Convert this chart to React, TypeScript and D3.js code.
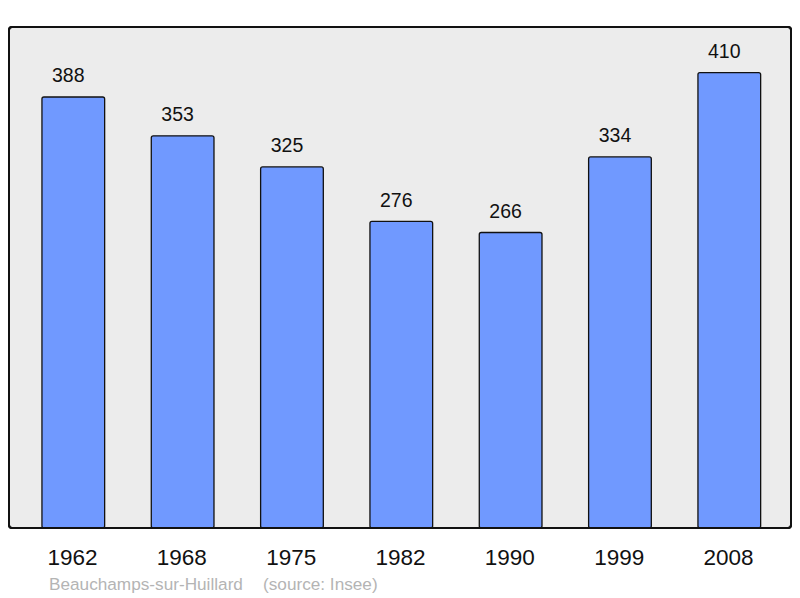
import React from "react";
import * as d3 from "d3";

const years = ["1962", "1968", "1975", "1982", "1990", "1999", "2008"];
const population = [388, 353, 325, 276, 266, 334, 410];
const townName = "Beauchamps-sur-Huillard";
const sourceLabel = "(source: Insee)";

const W = 800;
const H = 598;
const frame = { left: 9, top: 27, right: 791, bottom: 528 };

export default function App() {
  const x = d3.scalePoint<string>().domain(years).range([73.3, 729.3]);
  const y = d3
    .scaleLinear()
    .domain([0, d3.max(population)! * 1.1])
    .range([frame.bottom, frame.top]);
  const barW = 62.7;
  const font = "'Liberation Sans', Arial, sans-serif";

  return (
    <svg
      width={W}
      height={H}
      style={{ position: "absolute", left: 0, top: 0 }}
      fontFamily={font}
    >
      <rect x={0} y={0} width={W} height={H} fill="#ffffff" />
      <rect
        x={frame.left}
        y={frame.top}
        width={frame.right - frame.left}
        height={frame.bottom - frame.top}
        rx={3}
        fill="#ececec"
        stroke="#111"
        strokeWidth={2}
      />
      {years.map((yr, i) => {
        const cx = x(yr)!;
        const top = y(population[i]);
        return (
          <g key={yr}>
            <rect
              x={cx - barW / 2}
              y={top}
              width={barW}
              height={frame.bottom - top}
              rx={2}
              fill="#7099ff"
              stroke="#111"
              strokeWidth={1.3}
            />
            <text
              x={cx - 5}
              y={top - 14.8}
              textAnchor="middle"
              fontSize={19.5}
              fill="#111"
            >
              {population[i]}
            </text>
            <text
              x={cx - 0.8}
              y={565}
              textAnchor="middle"
              fontSize={22.5}
              fill="#111"
            >
              {yr}
            </text>
          </g>
        );
      })}
      <rect
        x={frame.left}
        y={frame.top}
        width={frame.right - frame.left}
        height={frame.bottom - frame.top}
        rx={3}
        fill="none"
        stroke="#111"
        strokeWidth={2}
      />
      <text x={49} y={590} fontSize={17.2} fill="#b4b4b4">
        {townName}
      </text>
      <text x={263} y={590} fontSize={17.2} fill="#b4b4b4">
        {sourceLabel}
      </text>
    </svg>
  );
}
